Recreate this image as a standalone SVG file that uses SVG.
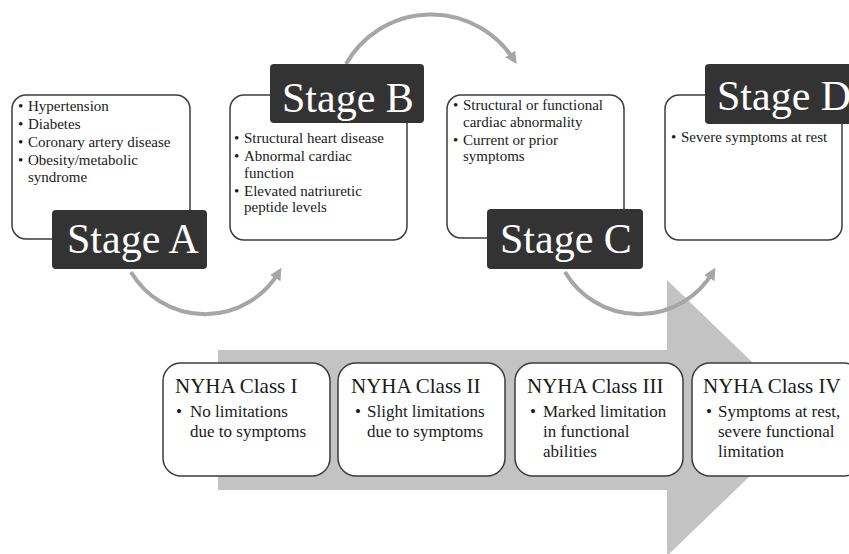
<svg xmlns="http://www.w3.org/2000/svg" width="849" height="554" viewBox="0 0 849 554" font-family="'Liberation Serif', 'Times New Roman', 'DejaVu Serif', serif">
<defs>
<style>
text{font-family:'Liberation Serif','Times New Roman','DejaVu Serif',serif;fill:#1a1a1a}
.box{fill:#fff;stroke:#3c3c3c;stroke-width:1.5}
.lab{fill:#333333}
.labt{font-size:42px;fill:#ffffff}
.b{font-size:15px}
.nt{font-size:21px}
.nb{font-size:17px}
.arc{fill:none;stroke:#a6a6a6;stroke-width:4}
</style>
<marker id="ah" viewBox="0 0 10 10" refX="6" refY="5" markerWidth="3" markerHeight="3" orient="auto" markerUnits="strokeWidth">
<path d="M0,0 L10,5 L0,10 Z" fill="#a6a6a6"/>
</marker>
</defs>
<rect width="849" height="554" fill="#ffffff"/>
<polygon id="bigArrow" points="218,350 667,350 667,280 810,418 667,556 667,490 218,490" fill="#c3c3c3"/>
<g id="connectors">
<path class="arc" d="M131,272 A86,86 0 0 0 279,272" marker-end="url(#ah)"/>
<path class="arc" d="M346,64 A98,98 0 0 1 514,60" marker-end="url(#ah)"/>
<path class="arc" d="M565,272 A86,86 0 0 0 713,272" marker-end="url(#ah)"/>
</g>
<g id="stageA">
<rect class="box" x="12" y="95" width="178" height="144" rx="14"/>
<text class="b"><tspan x="18" y="111">•</tspan><tspan x="28" y="111">Hypertension</tspan><tspan x="18" y="129">•</tspan><tspan x="28" y="129">Diabetes</tspan><tspan x="18" y="147">•</tspan><tspan x="28" y="147">Coronary artery disease</tspan><tspan x="18" y="165">•</tspan><tspan x="28" y="165">Obesity/metabolic</tspan><tspan x="28" y="181.5">syndrome</tspan></text>
<rect class="lab" x="52" y="210" width="155" height="59" rx="4"/>
<text class="labt" x="67" y="253">Stage A</text>
</g>
<g id="stageB">
<rect class="box" x="230" y="95" width="177" height="145" rx="14"/>
<rect class="lab" x="270" y="64" width="154" height="59" rx="4"/>
<text class="labt" x="282" y="112">Stage B</text>
<text class="b"><tspan x="234" y="143">•</tspan><tspan x="244" y="143">Structural heart disease</tspan><tspan x="234" y="161">•</tspan><tspan x="244" y="161">Abnormal cardiac</tspan><tspan x="244" y="177.5">function</tspan><tspan x="234" y="195.5">•</tspan><tspan x="244" y="195.5">Elevated natriuretic</tspan><tspan x="244" y="212">peptide levels</tspan></text>
</g>
<g id="stageC">
<rect class="box" x="447" y="95" width="177" height="143" rx="14"/>
<text class="b"><tspan x="453" y="110">•</tspan><tspan x="463" y="110">Structural or functional</tspan><tspan x="463" y="126.5">cardiac abnormality</tspan><tspan x="453" y="144.5">•</tspan><tspan x="463" y="144.5">Current or prior</tspan><tspan x="463" y="161">symptoms</tspan></text>
<rect class="lab" x="487" y="209" width="156" height="60" rx="4"/>
<text class="labt" x="500" y="253">Stage C</text>
</g>
<g id="stageD">
<rect class="box" x="665" y="95" width="177" height="145" rx="14"/>
<rect class="lab" x="705" y="64" width="160" height="60" rx="4"/>
<text class="labt" x="717" y="110">Stage D</text>
<text class="b"><tspan x="671" y="142">•</tspan><tspan x="681" y="142">Severe symptoms at rest</tspan></text>
</g>
<g id="nyha1">
<rect class="box" x="163" y="363" width="167" height="113" rx="18"/>
<text class="nt" x="175" y="393">NYHA Class I</text>
<text class="nb"><tspan x="176" y="417">•</tspan><tspan x="190" y="417">No limitations</tspan><tspan x="190" y="437">due to symptoms</tspan></text>
</g>
<g id="nyha2">
<rect class="box" x="338" y="363" width="167" height="113" rx="18"/>
<text class="nt" x="351" y="393">NYHA Class II</text>
<text class="nb"><tspan x="355" y="417">•</tspan><tspan x="367" y="417">Slight limitations</tspan><tspan x="367" y="437">due to symptoms</tspan></text>
</g>
<g id="nyha3">
<rect class="box" x="515" y="363" width="168" height="113" rx="18"/>
<text class="nt" x="527" y="393">NYHA Class III</text>
<text class="nb"><tspan x="530" y="417">•</tspan><tspan x="543" y="417">Marked limitation</tspan><tspan x="543" y="437">in functional</tspan><tspan x="543" y="457">abilities</tspan></text>
</g>
<g id="nyha4">
<rect class="box" x="692" y="363" width="170" height="113" rx="18"/>
<text class="nt" x="703" y="393">NYHA Class IV</text>
<text class="nb"><tspan x="706" y="417">•</tspan><tspan x="718" y="417">Symptoms at rest,</tspan><tspan x="718" y="437">severe functional</tspan><tspan x="718" y="457">limitation</tspan></text>
</g>
</svg>
